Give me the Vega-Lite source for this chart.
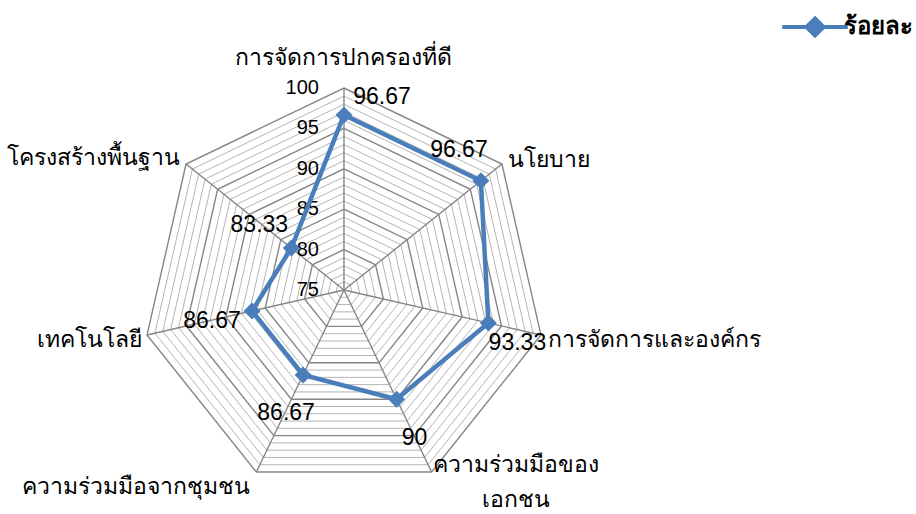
{
  "$schema": "https://vega.github.io/schema/vega-lite/v6.json",
  "width": 916,
  "height": 514,
  "autosize": "none",
  "padding": 0,
  "background": "white",
  "config": {"view": {"stroke": null}, "font": "Noto Sans"},
  "datasets": {
    "scores": [
      {"cat": "การจัดการปกครองที่ดี", "k": 0, "value": 96.67},
      {"cat": "นโยบาย", "k": 1, "value": 96.67},
      {"cat": "การจัดการและองค์กร", "k": 2, "value": 93.33},
      {"cat": "ความร่วมมือของ\nเอกชน", "k": 3, "value": 90},
      {"cat": "ความร่วมมือจากชุมชน", "k": 4, "value": 86.67},
      {"cat": "เทคโนโลยี", "k": 5, "value": 86.67},
      {"cat": "โครงสร้างพื้นฐาน", "k": 6, "value": 83.33}
    ],
    "grid": [
      {"level": 75, "k": [0,1,2,3,4,5,6]},
      {"level": 76, "k": [0,1,2,3,4,5,6]},
      {"level": 77, "k": [0,1,2,3,4,5,6]},
      {"level": 78, "k": [0,1,2,3,4,5,6]},
      {"level": 79, "k": [0,1,2,3,4,5,6]},
      {"level": 80, "k": [0,1,2,3,4,5,6]},
      {"level": 81, "k": [0,1,2,3,4,5,6]},
      {"level": 82, "k": [0,1,2,3,4,5,6]},
      {"level": 83, "k": [0,1,2,3,4,5,6]},
      {"level": 84, "k": [0,1,2,3,4,5,6]},
      {"level": 85, "k": [0,1,2,3,4,5,6]},
      {"level": 86, "k": [0,1,2,3,4,5,6]},
      {"level": 87, "k": [0,1,2,3,4,5,6]},
      {"level": 88, "k": [0,1,2,3,4,5,6]},
      {"level": 89, "k": [0,1,2,3,4,5,6]},
      {"level": 90, "k": [0,1,2,3,4,5,6]},
      {"level": 91, "k": [0,1,2,3,4,5,6]},
      {"level": 92, "k": [0,1,2,3,4,5,6]},
      {"level": 93, "k": [0,1,2,3,4,5,6]},
      {"level": 94, "k": [0,1,2,3,4,5,6]},
      {"level": 95, "k": [0,1,2,3,4,5,6]},
      {"level": 96, "k": [0,1,2,3,4,5,6]},
      {"level": 97, "k": [0,1,2,3,4,5,6]},
      {"level": 98, "k": [0,1,2,3,4,5,6]},
      {"level": 99, "k": [0,1,2,3,4,5,6]},
      {"level": 100, "k": [0,1,2,3,4,5,6]}
    ]
  },
  "encoding": {
    "x": {"field": "x", "type": "quantitative", "scale": {"domain": [-42.57, 70.79], "nice": false, "zero": false}, "axis": null},
    "y": {"field": "y", "type": "quantitative", "scale": {"domain": [-27.72, 35.89], "nice": false, "zero": false}, "axis": null}
  },
  "layer": [
    {
      "data": {"name": "grid"},
      "transform": [
        {"flatten": ["k"]},
        {"filter": "datum.level % 5 != 0"},
        {"calculate": "(datum.level - 75) * sin(datum.k * 2 * PI / 7)", "as": "x"},
        {"calculate": "(datum.level - 75) * cos(datum.k * 2 * PI / 7)", "as": "y"}
      ],
      "mark": {"type": "line", "interpolate": "linear-closed", "stroke": "#b4b4b4", "strokeWidth": 1},
      "encoding": {"detail": {"field": "level"}, "order": {"field": "k", "type": "quantitative"}}
    },
    {
      "data": {"name": "grid"},
      "transform": [
        {"flatten": ["k"]},
        {"filter": "datum.level % 5 == 0 && datum.level > 75"},
        {"calculate": "(datum.level - 75) * sin(datum.k * 2 * PI / 7)", "as": "x"},
        {"calculate": "(datum.level - 75) * cos(datum.k * 2 * PI / 7)", "as": "y"}
      ],
      "mark": {"type": "line", "interpolate": "linear-closed", "stroke": "#868686", "strokeWidth": 1.4},
      "encoding": {"detail": {"field": "level"}, "order": {"field": "k", "type": "quantitative"}}
    },
    {
      "data": {"name": "scores"},
      "transform": [
        {"calculate": "0", "as": "x"},
        {"calculate": "0", "as": "y"},
        {"calculate": "25 * sin(datum.k * 2 * PI / 7)", "as": "x2"},
        {"calculate": "25 * cos(datum.k * 2 * PI / 7)", "as": "y2"}
      ],
      "mark": {"type": "rule", "stroke": "#868686", "strokeWidth": 1.4},
      "encoding": {"x2": {"field": "x2"}, "y2": {"field": "y2"}}
    },
    {
      "data": {"name": "grid"},
      "transform": [
        {"flatten": ["k"]},
        {"filter": "datum.level % 5 == 0 && datum.k == 0"},
        {"calculate": "0", "as": "x"},
        {"calculate": "datum.level - 75", "as": "y"}
      ],
      "mark": {"type": "text", "align": "right", "baseline": "middle", "dx": -25, "fontSize": 20, "font": "Liberation Sans", "color": "black"},
      "encoding": {"text": {"field": "level"}}
    },
    {
      "data": {"name": "scores"},
      "transform": [
        {"calculate": "(datum.value - 75) * sin(datum.k * 2 * PI / 7)", "as": "x"},
        {"calculate": "(datum.value - 75) * cos(datum.k * 2 * PI / 7)", "as": "y"}
      ],
      "mark": {"type": "line", "interpolate": "linear-closed", "strokeWidth": 4.5},
      "encoding": {
        "order": {"field": "k", "type": "quantitative"},
        "color": {
          "datum": "ร้อยละ",
          "type": "nominal",
          "scale": {"range": ["#4a7ebb"]},
          "legend": {
            "orient": "none",
            "legendX": 780,
            "legendY": -8,
            "title": null,
            "symbolType": "M-1,0L1,0M0,-0.26L0.26,0L0,0.26L-0.26,0Z",
            "symbolSize": 4300,
            "symbolStrokeWidth": 4,
            "symbolFillColor": "#4a7ebb",
            "symbolStrokeColor": "#4a7ebb",
            "labelFontSize": 24,
            "labelFontWeight": "bold",
            "labelColor": "black",
            "labelOffset": -6
          }
        }
      }
    },
    {
      "data": {"name": "scores"},
      "transform": [
        {"calculate": "(datum.value - 75) * sin(datum.k * 2 * PI / 7)", "as": "x"},
        {"calculate": "(datum.value - 75) * cos(datum.k * 2 * PI / 7)", "as": "y"}
      ],
      "mark": {"type": "point", "shape": "diamond", "filled": true, "size": 290, "color": "#4a7ebb", "opacity": 1}
    },
    {
      "data": {"name": "scores"},
      "transform": [
        {"calculate": "(datum.value - 75) * sin(datum.k * 2 * PI / 7) + [4.70, -2.72, 3.59, 2.23, -2.10, -4.95, -3.96][datum.k]", "as": "x"},
        {"calculate": "(datum.value - 75) * cos(datum.k * 2 * PI / 7) + [2.23, 3.84, -2.48, -4.83, -4.70, -1.24, 2.85][datum.k]", "as": "y"}
      ],
      "mark": {"type": "text", "align": "center", "baseline": "middle", "fontSize": 23, "font": "Liberation Sans", "color": "black"},
      "encoding": {"text": {"field": "value", "format": ".2~f"}}
    },
    {
      "data": {"name": "scores"},
      "transform": [
        {"filter": "datum.k == 0"},
        {"calculate": "25 * sin(datum.k * 2 * PI / 7)", "as": "x"},
        {"calculate": "25 * cos(datum.k * 2 * PI / 7) + 3.71", "as": "y"}
      ],
      "mark": {"type": "text", "align": "center", "baseline": "middle", "fontSize": 23, "color": "black"},
      "encoding": {"text": {"field": "cat"}}
    },
    {
      "data": {"name": "scores"},
      "transform": [
        {"filter": "datum.k == 1 || datum.k == 2"},
        {"calculate": "25 * sin(datum.k * 2 * PI / 7) + [0, 0.74, 0.87][datum.k]", "as": "x"},
        {"calculate": "25 * cos(datum.k * 2 * PI / 7) + [0, 0.5, -0.62][datum.k]", "as": "y"}
      ],
      "mark": {"type": "text", "align": "left", "baseline": "middle", "fontSize": 23, "color": "black"},
      "encoding": {"text": {"field": "cat"}}
    },
    {
      "data": {"name": "scores"},
      "transform": [
        {"filter": "datum.k == 3"},
        {"calculate": "25 * sin(datum.k * 2 * PI / 7) + 10.4", "as": "x"},
        {"calculate": "25 * cos(datum.k * 2 * PI / 7) + 0.87", "as": "y"}
      ],
      "mark": {"type": "text", "align": "center", "baseline": "middle", "fontSize": 23, "lineBreak": "\n", "lineHeight": 35, "color": "black"},
      "encoding": {"text": {"field": "cat"}}
    },
    {
      "data": {"name": "scores"},
      "transform": [
        {"filter": "datum.k >= 4"},
        {"calculate": "25 * sin(datum.k * 2 * PI / 7) + [0, 0, 0, 0, -0.74, -0.62, -0.74][datum.k]", "as": "x"},
        {"calculate": "25 * cos(datum.k * 2 * PI / 7) + [0, 0, 0, 0, -1.86, -0.62, 0.74][datum.k]", "as": "y"}
      ],
      "mark": {"type": "text", "align": "right", "baseline": "middle", "fontSize": 23, "color": "black"},
      "encoding": {"text": {"field": "cat"}}
    }
  ]
}
